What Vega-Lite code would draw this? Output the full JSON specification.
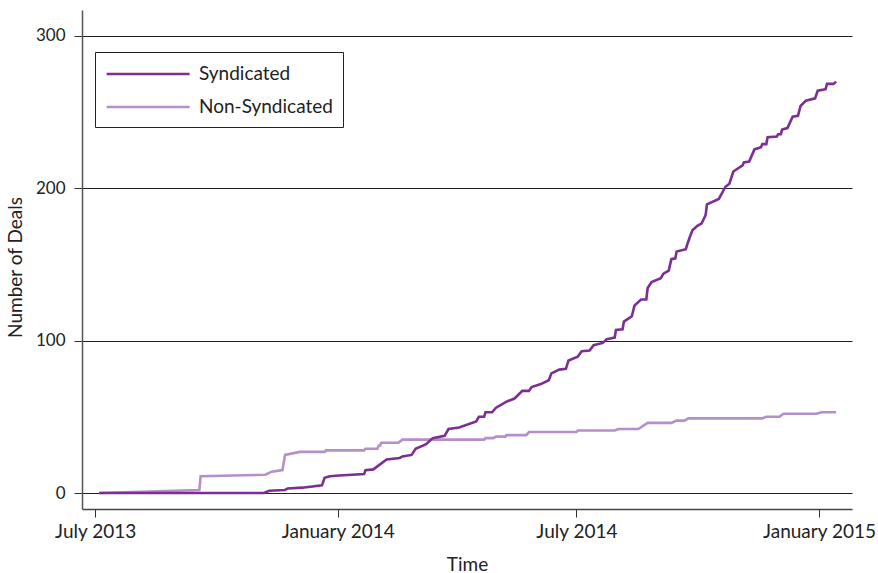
{
  "$schema": "https://vega.github.io/schema/vega-lite/v6.json",
  "autosize": {"type": "none"},
  "padding": {"left": 82, "top": 10, "right": 26, "bottom": 64},
  "width": 770,
  "height": 499,
  "background": "white",
  "config": {
    "view": {"stroke": null},
    "font": "Lato",
    "axis": {"labelFont": "Lato", "titleFont": "Lato", "labelColor": "#222", "titleColor": "#222", "titleFontWeight": "normal"}
  },
  "data": {
    "values": [
      {"series": "Non-Syndicated", "date": "2013-07-04", "deals": 0},
      {"series": "Non-Syndicated", "date": "2013-09-18", "deals": 2},
      {"series": "Non-Syndicated", "date": "2013-09-19", "deals": 11},
      {"series": "Non-Syndicated", "date": "2013-11-07", "deals": 12},
      {"series": "Non-Syndicated", "date": "2013-11-12", "deals": 14},
      {"series": "Non-Syndicated", "date": "2013-11-20", "deals": 15},
      {"series": "Non-Syndicated", "date": "2013-11-22", "deals": 25},
      {"series": "Non-Syndicated", "date": "2013-12-03", "deals": 27},
      {"series": "Non-Syndicated", "date": "2013-12-22", "deals": 27},
      {"series": "Non-Syndicated", "date": "2013-12-23", "deals": 28},
      {"series": "Non-Syndicated", "date": "2014-01-21", "deals": 28},
      {"series": "Non-Syndicated", "date": "2014-01-22", "deals": 29},
      {"series": "Non-Syndicated", "date": "2014-01-31", "deals": 29},
      {"series": "Non-Syndicated", "date": "2014-02-01", "deals": 31},
      {"series": "Non-Syndicated", "date": "2014-02-02", "deals": 31},
      {"series": "Non-Syndicated", "date": "2014-02-03", "deals": 33},
      {"series": "Non-Syndicated", "date": "2014-02-16", "deals": 33},
      {"series": "Non-Syndicated", "date": "2014-02-19", "deals": 35},
      {"series": "Non-Syndicated", "date": "2014-04-22", "deals": 35},
      {"series": "Non-Syndicated", "date": "2014-04-23", "deals": 36},
      {"series": "Non-Syndicated", "date": "2014-04-29", "deals": 36},
      {"series": "Non-Syndicated", "date": "2014-05-01", "deals": 37},
      {"series": "Non-Syndicated", "date": "2014-05-08", "deals": 37},
      {"series": "Non-Syndicated", "date": "2014-05-09", "deals": 38},
      {"series": "Non-Syndicated", "date": "2014-05-24", "deals": 38},
      {"series": "Non-Syndicated", "date": "2014-05-26", "deals": 40},
      {"series": "Non-Syndicated", "date": "2014-07-01", "deals": 40},
      {"series": "Non-Syndicated", "date": "2014-07-02", "deals": 41},
      {"series": "Non-Syndicated", "date": "2014-07-30", "deals": 41},
      {"series": "Non-Syndicated", "date": "2014-08-02", "deals": 42},
      {"series": "Non-Syndicated", "date": "2014-08-17", "deals": 42},
      {"series": "Non-Syndicated", "date": "2014-08-24", "deals": 46},
      {"series": "Non-Syndicated", "date": "2014-09-11", "deals": 46},
      {"series": "Non-Syndicated", "date": "2014-09-15", "deals": 47.5},
      {"series": "Non-Syndicated", "date": "2014-09-21", "deals": 47.5},
      {"series": "Non-Syndicated", "date": "2014-09-24", "deals": 49},
      {"series": "Non-Syndicated", "date": "2014-11-19", "deals": 49},
      {"series": "Non-Syndicated", "date": "2014-11-22", "deals": 50},
      {"series": "Non-Syndicated", "date": "2014-12-02", "deals": 50},
      {"series": "Non-Syndicated", "date": "2014-12-05", "deals": 52},
      {"series": "Non-Syndicated", "date": "2014-12-30", "deals": 52},
      {"series": "Non-Syndicated", "date": "2015-01-03", "deals": 53},
      {"series": "Non-Syndicated", "date": "2015-01-14", "deals": 53},
      {"series": "Syndicated", "date": "2013-07-04", "deals": 0},
      {"series": "Syndicated", "date": "2013-11-06", "deals": 0},
      {"series": "Syndicated", "date": "2013-11-10", "deals": 1.5},
      {"series": "Syndicated", "date": "2013-11-22", "deals": 2},
      {"series": "Syndicated", "date": "2013-11-24", "deals": 3},
      {"series": "Syndicated", "date": "2013-12-05", "deals": 3.5},
      {"series": "Syndicated", "date": "2013-12-20", "deals": 5},
      {"series": "Syndicated", "date": "2013-12-22", "deals": 10},
      {"series": "Syndicated", "date": "2013-12-26", "deals": 11},
      {"series": "Syndicated", "date": "2014-01-02", "deals": 11.5},
      {"series": "Syndicated", "date": "2014-01-21", "deals": 12.5},
      {"series": "Syndicated", "date": "2014-01-22", "deals": 15},
      {"series": "Syndicated", "date": "2014-01-28", "deals": 15.5},
      {"series": "Syndicated", "date": "2014-02-07", "deals": 22},
      {"series": "Syndicated", "date": "2014-02-17", "deals": 23},
      {"series": "Syndicated", "date": "2014-02-19", "deals": 24},
      {"series": "Syndicated", "date": "2014-02-26", "deals": 25},
      {"series": "Syndicated", "date": "2014-03-01", "deals": 29},
      {"series": "Syndicated", "date": "2014-03-09", "deals": 32},
      {"series": "Syndicated", "date": "2014-03-14", "deals": 36},
      {"series": "Syndicated", "date": "2014-03-23", "deals": 37.5},
      {"series": "Syndicated", "date": "2014-03-26", "deals": 42},
      {"series": "Syndicated", "date": "2014-04-03", "deals": 43},
      {"series": "Syndicated", "date": "2014-04-16", "deals": 47},
      {"series": "Syndicated", "date": "2014-04-18", "deals": 50},
      {"series": "Syndicated", "date": "2014-04-22", "deals": 50},
      {"series": "Syndicated", "date": "2014-04-23", "deals": 53},
      {"series": "Syndicated", "date": "2014-04-28", "deals": 53},
      {"series": "Syndicated", "date": "2014-05-01", "deals": 56},
      {"series": "Syndicated", "date": "2014-05-09", "deals": 60},
      {"series": "Syndicated", "date": "2014-05-15", "deals": 62},
      {"series": "Syndicated", "date": "2014-05-21", "deals": 67},
      {"series": "Syndicated", "date": "2014-05-26", "deals": 67},
      {"series": "Syndicated", "date": "2014-05-28", "deals": 69.5},
      {"series": "Syndicated", "date": "2014-06-04", "deals": 71.5},
      {"series": "Syndicated", "date": "2014-06-10", "deals": 74},
      {"series": "Syndicated", "date": "2014-06-12", "deals": 78.5},
      {"series": "Syndicated", "date": "2014-06-18", "deals": 81},
      {"series": "Syndicated", "date": "2014-06-23", "deals": 81.5},
      {"series": "Syndicated", "date": "2014-06-25", "deals": 87},
      {"series": "Syndicated", "date": "2014-07-02", "deals": 89.5},
      {"series": "Syndicated", "date": "2014-07-05", "deals": 93},
      {"series": "Syndicated", "date": "2014-07-11", "deals": 93.5},
      {"series": "Syndicated", "date": "2014-07-14", "deals": 97},
      {"series": "Syndicated", "date": "2014-07-21", "deals": 98.5},
      {"series": "Syndicated", "date": "2014-07-24", "deals": 101},
      {"series": "Syndicated", "date": "2014-07-30", "deals": 102},
      {"series": "Syndicated", "date": "2014-07-31", "deals": 107},
      {"series": "Syndicated", "date": "2014-08-05", "deals": 107.5},
      {"series": "Syndicated", "date": "2014-08-06", "deals": 112.5},
      {"series": "Syndicated", "date": "2014-08-12", "deals": 116},
      {"series": "Syndicated", "date": "2014-08-14", "deals": 123},
      {"series": "Syndicated", "date": "2014-08-19", "deals": 127},
      {"series": "Syndicated", "date": "2014-08-23", "deals": 127},
      {"series": "Syndicated", "date": "2014-08-24", "deals": 134.5},
      {"series": "Syndicated", "date": "2014-08-27", "deals": 138.5},
      {"series": "Syndicated", "date": "2014-09-03", "deals": 141},
      {"series": "Syndicated", "date": "2014-09-05", "deals": 144},
      {"series": "Syndicated", "date": "2014-09-09", "deals": 146},
      {"series": "Syndicated", "date": "2014-09-11", "deals": 153.5},
      {"series": "Syndicated", "date": "2014-09-14", "deals": 154},
      {"series": "Syndicated", "date": "2014-09-15", "deals": 158.5},
      {"series": "Syndicated", "date": "2014-09-22", "deals": 160},
      {"series": "Syndicated", "date": "2014-09-23", "deals": 163},
      {"series": "Syndicated", "date": "2014-09-25", "deals": 168},
      {"series": "Syndicated", "date": "2014-09-27", "deals": 172.5},
      {"series": "Syndicated", "date": "2014-10-01", "deals": 175.5},
      {"series": "Syndicated", "date": "2014-10-04", "deals": 177},
      {"series": "Syndicated", "date": "2014-10-07", "deals": 182.5},
      {"series": "Syndicated", "date": "2014-10-08", "deals": 189.5},
      {"series": "Syndicated", "date": "2014-10-17", "deals": 193},
      {"series": "Syndicated", "date": "2014-10-22", "deals": 201},
      {"series": "Syndicated", "date": "2014-10-25", "deals": 203},
      {"series": "Syndicated", "date": "2014-10-28", "deals": 211},
      {"series": "Syndicated", "date": "2014-11-04", "deals": 215},
      {"series": "Syndicated", "date": "2014-11-05", "deals": 217},
      {"series": "Syndicated", "date": "2014-11-09", "deals": 217.5},
      {"series": "Syndicated", "date": "2014-11-13", "deals": 225.5},
      {"series": "Syndicated", "date": "2014-11-18", "deals": 227},
      {"series": "Syndicated", "date": "2014-11-19", "deals": 229},
      {"series": "Syndicated", "date": "2014-11-22", "deals": 229},
      {"series": "Syndicated", "date": "2014-11-23", "deals": 233.5},
      {"series": "Syndicated", "date": "2014-11-30", "deals": 234},
      {"series": "Syndicated", "date": "2014-12-01", "deals": 235.5},
      {"series": "Syndicated", "date": "2014-12-03", "deals": 235.5},
      {"series": "Syndicated", "date": "2014-12-04", "deals": 238.5},
      {"series": "Syndicated", "date": "2014-12-08", "deals": 239.5},
      {"series": "Syndicated", "date": "2014-12-12", "deals": 247},
      {"series": "Syndicated", "date": "2014-12-16", "deals": 247.5},
      {"series": "Syndicated", "date": "2014-12-18", "deals": 254},
      {"series": "Syndicated", "date": "2014-12-22", "deals": 257.5},
      {"series": "Syndicated", "date": "2014-12-29", "deals": 259},
      {"series": "Syndicated", "date": "2014-12-31", "deals": 264},
      {"series": "Syndicated", "date": "2015-01-06", "deals": 265},
      {"series": "Syndicated", "date": "2015-01-07", "deals": 268.5},
      {"series": "Syndicated", "date": "2015-01-12", "deals": 268.5},
      {"series": "Syndicated", "date": "2015-01-14", "deals": 270}
    ]
  },
  "mark": {"type": "line", "strokeWidth": 2.6, "interpolate": "linear"},
  "encoding": {
    "x": {
      "field": "date",
      "type": "temporal",
      "scale": {
        "type": "utc",
        "domain": [
          {"year": 2013, "month": 6, "date": 21, "utc": true},
          {"year": 2015, "month": 1, "date": 26, "utc": true}
        ]
      },
      "axis": {
        "title": "Time",
        "values": [
          {"year": 2013, "month": 7, "date": 1, "utc": true},
          {"year": 2014, "month": 1, "date": 1, "utc": true},
          {"year": 2014, "month": 7, "date": 1, "utc": true},
          {"year": 2015, "month": 1, "date": 1, "utc": true}
        ],
        "format": "%B %Y",
        "grid": false,
        "domainColor": "#444",
        "domainWidth": 1.5,
        "tickColor": "#333",
        "tickSize": 8,
        "tickWidth": 1,
        "labelFontSize": 19,
        "labelPadding": 5,
        "labelFlush": false,
        "labelOverlap": false,
        "titleFontSize": 19,
        "titlePadding": 14
      }
    },
    "y": {
      "field": "deals",
      "type": "quantitative",
      "scale": {"domain": [-10.5, 317], "nice": false, "zero": false},
      "axis": {
        "title": "Number of Deals",
        "values": [0, 100, 200, 300],
        "grid": true,
        "gridColor": "#222",
        "gridWidth": 1,
        "domainColor": "#555",
        "domainWidth": 1.5,
        "tickColor": "#333",
        "tickSize": 8,
        "labelFontSize": 17,
        "labelPadding": 9,
        "titleFontSize": 19,
        "titlePadding": 10,
        "titleY": 257
      }
    },
    "color": {
      "field": "series",
      "type": "nominal",
      "scale": {"domain": ["Syndicated", "Non-Syndicated"], "range": ["#7b2f92", "#b58fca"]},
      "legend": {
        "title": null,
        "orient": "none",
        "legendX": 13,
        "legendY": 42,
        "strokeColor": "#222",
        "fillColor": "white",
        "padding": 10,
        "symbolType": "M-1,0H7",
        "symbolSize": 430,
        "symbolStrokeWidth": 2.6,
        "labelFontSize": 19,
        "labelFont": "Lato",
        "labelColor": "#222",
        "labelOffset": 70,
        "labelLimit": 300,
        "rowPadding": 11
      }
    },
    "order": {"field": "date", "type": "temporal"}
  }
}
